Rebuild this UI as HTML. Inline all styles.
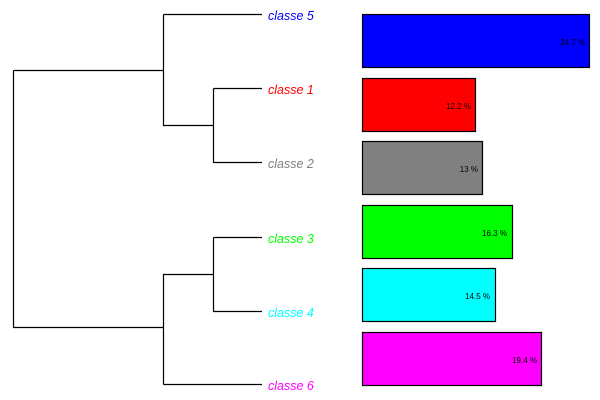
<!DOCTYPE html>
<html><head><meta charset="utf-8"><style>
body{margin:0;background:#fff;}
svg{display:block;}
text{font-family:"Liberation Sans",sans-serif;}
</style></head><body>
<svg width="600" height="400" xmlns="http://www.w3.org/2000/svg">
<g stroke="#000" stroke-width="1.2" fill="none">
<path d="M163.5,14.5H262M163.5,14.5V125.5H213.5M213.5,88.5H262M213.5,88.5V162.5H262"/>
<path d="M13.5,70.5H163.5M13.5,70.5V327.5H163.5"/>
<path d="M163.5,384.5H262M163.5,384.5V274.5H213.5M213.5,237.5H262M213.5,237.5V311.5H262"/>
</g>
<g font-size="12.5" font-style="italic" xml:space="preserve">
<text x="268" y="20" fill="#0000ff">classe  5</text>
<text x="268" y="94" fill="#ff0000">classe  1</text>
<text x="268" y="168" fill="#808080">classe  2</text>
<text x="268" y="243" fill="#00ff00">classe  3</text>
<text x="268" y="317" fill="#00ffff">classe  4</text>
<text x="268" y="390" fill="#ff00ff">classe  6</text>
</g>
<g stroke="#000" stroke-width="1.2">
<rect x="362.5" y="14.5" width="227" height="53" fill="#0000ff"/>
<rect x="362.5" y="78.5" width="113" height="53" fill="#ff0000"/>
<rect x="362.5" y="141.5" width="120" height="53" fill="#808080"/>
<rect x="362.5" y="205.5" width="150" height="53" fill="#00ff00"/>
<rect x="362.5" y="268.5" width="133" height="53" fill="#00ffff"/>
<rect x="362.5" y="332.5" width="179" height="53" fill="#ff00ff"/>
</g>
<g font-size="8" text-anchor="end" fill="#000">
<text x="585" y="45">24.7 %</text>
<text x="471" y="109">12.2 %</text>
<text x="478" y="172">13 %</text>
<text x="507" y="236">16.3 %</text>
<text x="490" y="299">14.5 %</text>
<text x="537" y="363">19.4 %</text>
</g>
</svg>
</body></html>
